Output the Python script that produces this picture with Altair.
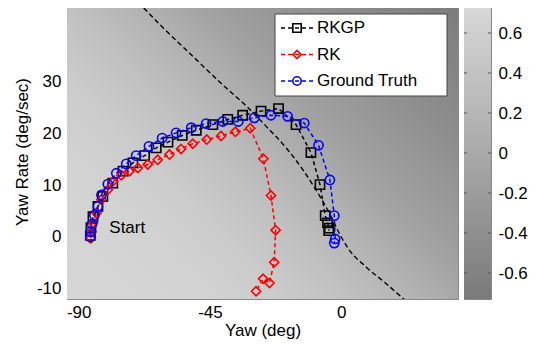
import altair as alt
import pandas as pd

# ---------------- data ----------------
X_DOMAIN = [-94, 40]
Y_DOMAIN = [-12, 45]
X_TICKS = [-90, -45, 0]
Y_TICKS = [-10, 0, 10, 20, 30]
CB_DOMAIN = [-0.73, 0.745]
CB_TICKS = [-0.6, -0.4, -0.2, 0, 0.2, 0.4, 0.6]

SERIES = ["RKGP", "RK", "Ground Truth"]
COLORS = ["#000000", "#ff0000", "#0000ff"]
SHAPES = ["square", "diamond", "circle"]

rkgp_yaw = [-86.0, -85.8, -85.1, -83.4, -81.7, -78.3, -74.8, -71.4, -67.4, -63.4,
            -59.4, -54.5, -49.7, -44.0, -38.9, -33.8, -27.5, -21.5, -15.5, -10.4,
            -7.3, -5.5, -4.7, -4.1, -4.3]
rkgp_rate = [0.3, 1.8, 3.9, 5.9, 7.8, 10.4, 12.7, 14.3, 15.7, 17.2,
             18.3, 19.6, 20.6, 21.7, 22.7, 23.5, 24.3, 24.8, 21.7, 16.3,
             10.1, 4.1, 2.7, 1.7, 1.2]

rk_yaw = [-85.9, -85.6, -85.1, -83.9, -82.2, -80.0, -78.3, -75.4, -72.6, -69.7,
          -66.3, -62.9, -58.9, -54.9, -50.9, -46.1, -41.2, -36.3, -31.2, -26.7,
          -24.1, -22.5, -23.0, -24.6, -26.8, -29.2]
rk_rate = [-0.3, 1.0, 2.7, 4.6, 7.2, 9.1, 10.7, 11.9, 12.7, 13.3,
           14.0, 14.9, 15.9, 17.0, 18.0, 18.8, 19.5, 20.3, 21.0, 15.1,
           8.0, 1.3, -4.9, -8.9, -8.1, -10.5]

gt_yaw = [-86.0, -85.9, -85.4, -84.6, -83.4, -82.2, -80.0, -77.1, -73.7, -70.3,
          -65.9, -61.4, -56.6, -51.4, -46.3, -40.6, -35.3, -29.8, -24.1, -18.4,
          -12.7, -7.8, -3.9, -2.4, -2.1, -2.4]
gt_rate = [0.0, 1.0, 2.5, 4.2, 5.9, 8.1, 10.2, 12.3, 14.1, 15.7,
           17.5, 19.1, 20.1, 21.1, 21.9, 22.3, 22.3, 23.0, 23.5, 23.3,
           22.0, 17.7, 11.0, 4.1, -0.4, -1.2]

boundary_yaw = [-71.5, -62.3, -50.9, -39.5, -32.6, -25.8, -18.9, -13.2, -8.7, -4.1,
                -0.7, 2.7, 8.5, 15.3, 21.6, 23.0]
boundary_rate = [46.5, 41.1, 34.9, 28.8, 25.3, 21.4, 17.2, 13.0, 9.1, 4.6,
                 0.7, -2.5, -5.8, -9.0, -12.1, -12.8]

START_LABEL = {"text": "Start", "yaw": -79.5, "rate": 1.7}

# ---------------- layout / style ----------------
W, H = 391, 295
CB_W = 27
FONT = "Liberation Sans"
FS = 17

xs = alt.Scale(domain=X_DOMAIN, nice=False, zero=False)
ys = alt.Scale(domain=Y_DOMAIN, nice=False, zero=False)
x_axis = alt.Axis(values=X_TICKS, title="Yaw (deg)", grid=False, ticks=False,
                  domain=False, labelPadding=5, titlePadding=2,
                  labelExpr="'' + datum.value")
y_axis = alt.Axis(values=Y_TICKS, title="Yaw Rate (deg/sec)", grid=False, ticks=False,
                  domain=False, labelPadding=6, titlePadding=5,
                  labelExpr="'' + datum.value")
X = alt.X("yaw:Q", scale=xs, axis=x_axis)
Y = alt.Y("rate:Q", scale=ys, axis=y_axis)

bg_grad = alt.Gradient(
    gradient="linear",
    x1=0, y1=1, x2=1.13, y2=0.18,
    stops=[
        alt.GradientStop(offset=0.0, color="#d6d6d6"),
        alt.GradientStop(offset=0.2, color="#d3d3d3"),
        alt.GradientStop(offset=0.32, color="#cbcbcb"),
        alt.GradientStop(offset=0.42, color="#c1c1c1"),
        alt.GradientStop(offset=0.52, color="#b3b3b3"),
        alt.GradientStop(offset=0.62, color="#a2a2a2"),
        alt.GradientStop(offset=0.8, color="#8e8e8e"),
        alt.GradientStop(offset=1.0, color="#7c7c7c"),
    ],
)

bg_df = pd.DataFrame({"yaw": [X_DOMAIN[0]], "yaw2": [X_DOMAIN[1]],
                      "rate": [Y_DOMAIN[0]], "rate2": [Y_DOMAIN[1]]})
background = alt.Chart(bg_df).mark_rect(color=bg_grad).encode(
    x=X, x2="yaw2", y=Y, y2="rate2")

bnd_df = pd.DataFrame({"yaw": boundary_yaw, "rate": boundary_rate,
                       "o": list(range(len(boundary_yaw)))})
boundary = alt.Chart(bnd_df).mark_line(
    color="black", strokeDash=[5, 3], strokeWidth=1.4, clip=True,
    interpolate="monotone").encode(x=X, y=Y, order="o:Q")

series_data = [(rkgp_yaw, rkgp_rate), (rk_yaw, rk_rate), (gt_yaw, gt_rate)]
layers = [background, boundary]
for name, color, shape, (sx, sy) in zip(SERIES, COLORS, SHAPES, series_data):
    df = pd.DataFrame({"yaw": sx, "rate": sy, "o": list(range(len(sx)))})
    base = alt.Chart(df)
    layers.append(base.mark_line(color=color, strokeDash=[4, 3], strokeWidth=1.5,
                                 clip=True).encode(x=X, y=Y, order="o:Q"))
    layers.append(base.mark_point(shape=shape, color=color, filled=False, size=85,
                                  strokeWidth=1.6, opacity=1, clip=True)
                  .encode(x=X, y=Y))

start_df = pd.DataFrame([START_LABEL])
layers.append(alt.Chart(start_df).mark_text(
    align="left", baseline="middle", font=FONT, fontSize=FS, color="black")
    .encode(x=X, y=Y, text="text:N"))

# legend (pixel placement inside plot)
LEG_X0, LEG_X1, LEG_Y0, LEG_Y1 = 208, 380, 10, 92
leg_df = pd.DataFrame({"name": SERIES, "i": [0, 1, 2]})
leg_box = alt.Chart(pd.DataFrame({"a": [0]})).mark_rect(
    fill="white", stroke="#444", strokeWidth=1).encode(
    x=alt.value(LEG_X0), x2=alt.value(LEG_X1), y=alt.value(LEG_Y0), y2=alt.value(LEG_Y1))
layers.append(leg_box)
leg_base = alt.Chart(leg_df).transform_calculate(ly="24 + datum.i * 26.5")
cscale = alt.Scale(domain=SERIES, range=COLORS)
sscale = alt.Scale(domain=SERIES, range=SHAPES)
layers.append(leg_base.mark_rule(strokeDash=[4, 3], strokeWidth=1.5).encode(
    x=alt.value(214), x2=alt.value(246), y=alt.Y("ly:Q", scale=None),
    color=alt.Color("name:N", scale=cscale, legend=None)))
layers.append(leg_base.mark_point(filled=False, size=70, strokeWidth=1.6, opacity=1).encode(
    x=alt.value(230), y=alt.Y("ly:Q", scale=None),
    color=alt.Color("name:N", scale=cscale, legend=None),
    shape=alt.Shape("name:N", scale=sscale, legend=None)))
layers.append(leg_base.mark_text(align="left", baseline="middle", font=FONT,
                                 fontSize=FS, color="black").encode(
    x=alt.value(250), y=alt.Y("ly:Q", scale=None), text="name:N"))

main = alt.layer(*layers).properties(width=W, height=H)

# colorbar
cb_grad = alt.Gradient(gradient="linear", x1=0, y1=1, x2=0, y2=0,
                       stops=[alt.GradientStop(offset=0, color="#7a7a7a"),
                              alt.GradientStop(offset=1, color="#d9d9d9")])
cb_df = pd.DataFrame({"v": [CB_DOMAIN[0]], "v2": [CB_DOMAIN[1]]})
cb_y = alt.Y("v:Q", scale=alt.Scale(domain=CB_DOMAIN, nice=False, zero=False),
             axis=alt.Axis(orient="right", values=CB_TICKS, title=None, grid=False,
                           ticks=False, domain=False, labelPadding=7,
                           labelExpr="'' + datum.value"))
cb_rect = alt.Chart(cb_df).mark_rect(color=cb_grad).encode(
    y=cb_y, y2="v2", x=alt.value(0), x2=alt.value(CB_W))
tick_df = pd.DataFrame({"v": CB_TICKS})
cb_t1 = alt.Chart(tick_df).mark_rule(color="#555", strokeWidth=1).encode(
    y=alt.Y("v:Q", scale=alt.Scale(domain=CB_DOMAIN, nice=False, zero=False)),
    x=alt.value(0), x2=alt.value(3))
cb_t2 = alt.Chart(tick_df).mark_rule(color="#555", strokeWidth=1).encode(
    y=alt.Y("v:Q", scale=alt.Scale(domain=CB_DOMAIN, nice=False, zero=False)),
    x=alt.value(CB_W - 3), x2=alt.value(CB_W))
colorbar = alt.layer(cb_rect, cb_t1, cb_t2).properties(width=CB_W, height=H)

chart = alt.hconcat(main, colorbar, spacing=4).properties(
    padding={"left": 4, "top": -5, "right": 0, "bottom": 0}
).configure_view(stroke="#888", strokeWidth=1).configure_axis(
    labelFont=FONT, titleFont=FONT, labelFontSize=FS, titleFontSize=FS,
    labelColor="black", titleColor="black", titleFontWeight="normal")

chart.save("out.html", embed_options={"renderer": "svg", "actions": False})
